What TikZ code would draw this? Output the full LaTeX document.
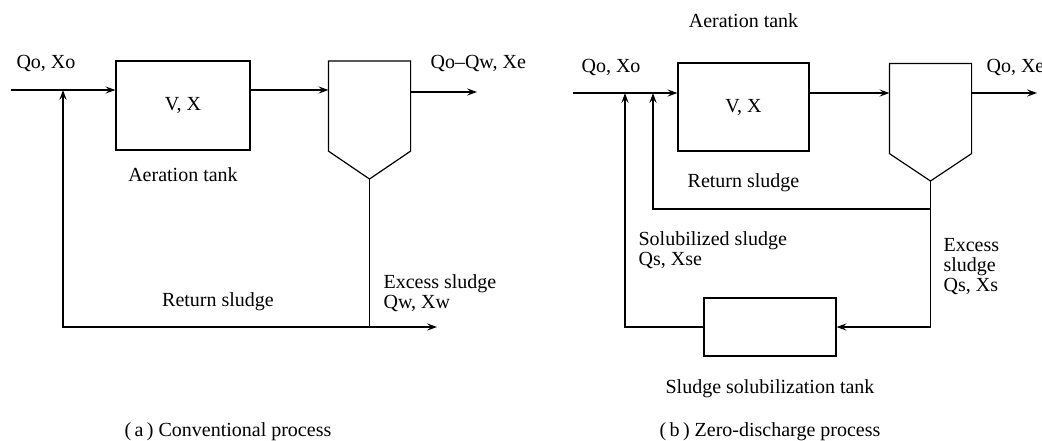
\documentclass[tikz,border=0pt]{standalone}
\usepackage{fontspec}
\setmainfont{Liberation Serif}
\usetikzlibrary{arrows.meta,positioning,calc}

\begin{document}
\begin{tikzpicture}[x=0.5pt, y=-0.5pt, line width=0.6pt,
        >={Stealth[length=5pt,width=3.6pt,inset=2pt]},
        font=\fontsize{10}{10}\selectfont,
        tank/.style={rectangle, draw, inner sep=0pt},
        settler/.style={rectangle, inner sep=0pt, minimum width=40.5pt, minimum height=44.5pt},
        lbl/.style={inner sep=0pt, align=left}]
        \useasboundingbox (0,0) rectangle (1042,440);

        % (a) conventional process
        \node [tank, minimum width=67pt, minimum height=44.5pt] (aerA) at (183,105.5) {V, X};
        \node [lbl, below=8pt of aerA] (aerAname) {Aeration tank};
        \node [settler] (clarA) at (369.5,106) {};
        \coordinate (tipA) at (369.5,179);
        \draw (clarA.north west) -- (clarA.north east) -- (clarA.south east) -- (tipA) -- (clarA.south west) -- cycle;

        \coordinate (inA) at (11,90);
        \coordinate (outA) at (477,92);
        \coordinate (joinA) at (63,90);
        \coordinate (botA) at (369.5,327);
        \coordinate (wasteA) at (437,327);

        \draw [->] (inA) -- (inA -| aerA.west);
        \draw [->] (aerA.east |- inA) -- (clarA.west |- inA);
        \draw [->] (clarA.east |- outA) -- (outA);
        \draw (tipA) -- (botA);
        \draw [->] (botA) -- (wasteA);
        \draw [->] (botA) -| (joinA);

        \node [lbl] (qinA) at (46,63) {Qo, Xo};
        \node [lbl, anchor=west] (qoutA) at (430,63) {Qo--Qw, Xe};
        \node [lbl] (retA) at (218,302) {Return sludge};
        \node [lbl, anchor=west] (excA) at (383,293) {Excess sludge\\Qw, Xw};
        \node [lbl] (capA) at (228,432) {(\,a\,) Conventional process};

        % (b) zero-discharge process
        \node [tank, minimum width=65.5pt, minimum height=44pt] (aerB) at (743.5,107) {V, X};
        \node [lbl, above=17pt of aerB] (aerBname) {Aeration tank};
        \node [settler] (clarB) at (930.5,108.5) {};
        \coordinate (tipB) at (930.5,181);
        \draw (clarB.north west) -- (clarB.north east) -- (clarB.south east) -- (tipB) -- (clarB.south west) -- cycle;
        \node [tank, minimum width=66pt, minimum height=29pt] (solB) at (770,327) {};
        \node [lbl, below=11pt of solB] (solBname) {Sludge solubilization tank};

        \coordinate (inB) at (573,93);
        \coordinate (outB) at (1037,93);
        \coordinate (joinB) at (625,93);
        \coordinate (retjoinB) at (653,93);
        \coordinate (splitB) at (930.5,209);

        \draw [->] (inB) -- (inB -| aerB.west);
        \draw [->] (aerB.east |- inB) -- (clarB.west |- inB);
        \draw [->] (clarB.east |- outB) -- (outB);
        \draw (tipB) -- (splitB);
        \draw [->] (splitB) -| (retjoinB);
        \draw [->] (splitB) |- (solB.east);
        \draw [->] (solB.west) -| (joinB);

        \node [lbl] (qinB) at (611,67) {Qo, Xo};
        \node [lbl, anchor=west] (qoutB) at (986,67) {Qo, Xe};
        \node [lbl, below=10.5pt of aerB] (retB) {Return sludge};
        \node [lbl, anchor=west] (solvB) at (638,250) {Solubilized sludge\\Qs, Xse};
        \node [lbl, anchor=west] (excB) at (943,267) {Excess\\sludge\\Qs, Xs};
        \node [lbl] (capB) at (770,432) {(\,b\,) Zero-discharge process};
    \end{tikzpicture}
\end{document}
